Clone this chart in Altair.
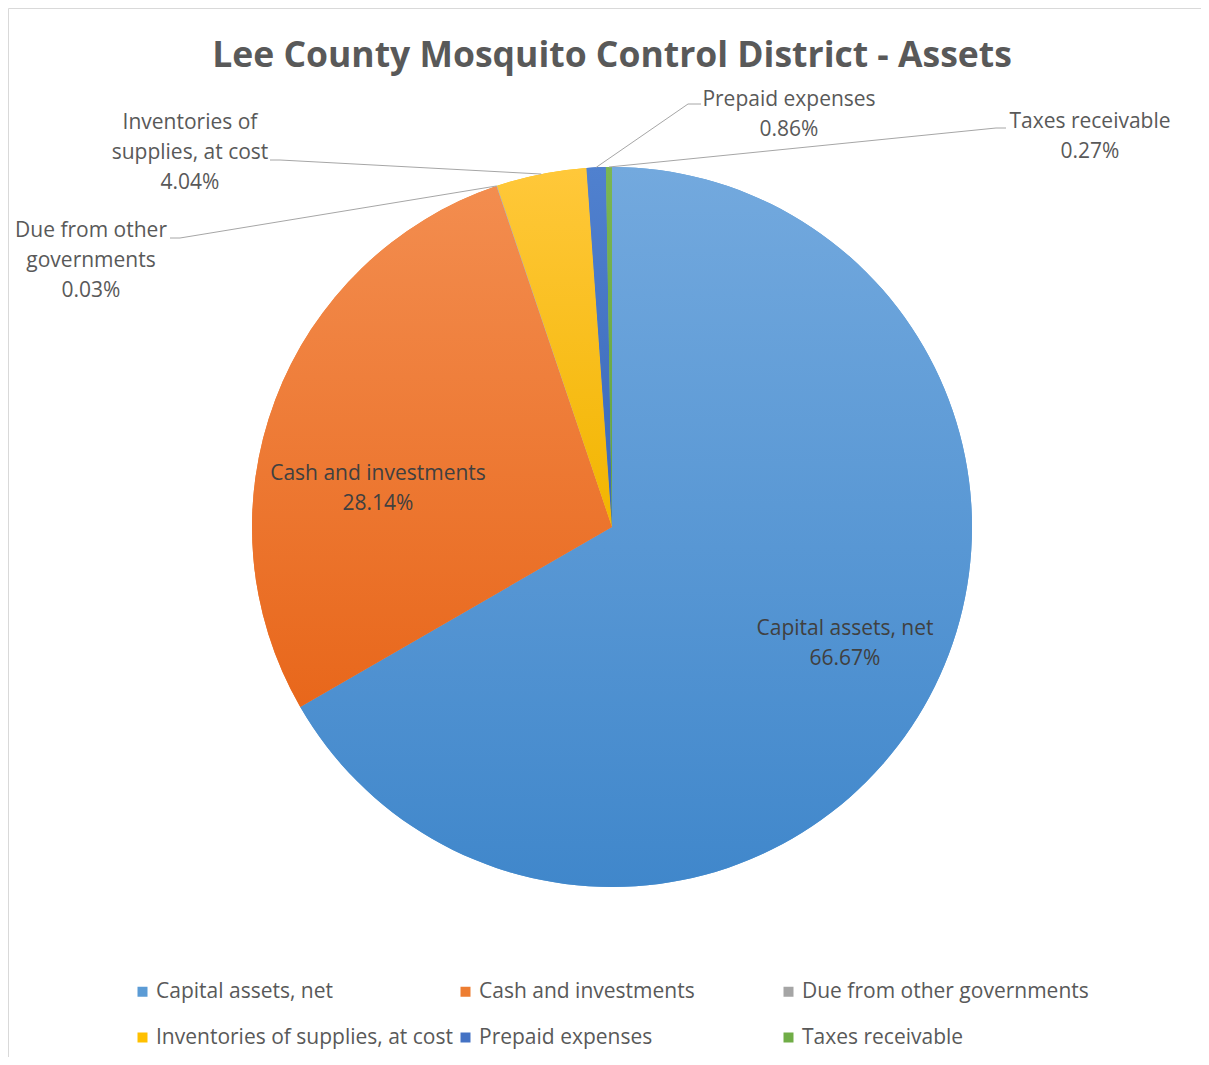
import math
import altair as alt
import pandas as pd

# ---------------- data ----------------
categories = [
    "Capital assets, net",
    "Cash and investments",
    "Due from other governments",
    "Inventories of supplies, at cost",
    "Prepaid expenses",
    "Taxes receivable",
]
percent = [66.67, 28.14, 0.03, 4.04, 0.86, 0.27]
label_names = [
    "Capital assets, net",
    "Cash and investments",
    "Due from other\ngovernments",
    "Inventories of\nsupplies, at cost",
    "Prepaid expenses",
    "Taxes receivable",
]
TITLE = "Lee County Mosquito Control District - Assets"

# ---------------- styles / layout ----------------
colors = ["#5B9BD5", "#ED7D31", "#A5A5A5", "#FFC000", "#4472C4", "#70AD47"]
grad_top = ["#73A9DE", "#F38D4F", "#B2B2B2", "#FFC83A", "#5081CF", "#7BB653"]
grad_bot = ["#4087CB", "#E8671B", "#999999", "#F2B500", "#3A67B8", "#64A23D"]

PAGE_OFF = 8
W, H = 1193, 1049
CX, CY, R = 612, 527, 360  # pie centre and radius in page pixels
FONT = "Open Sans"


def ux(px):
    return (px - CX) / R


def uy(py):
    return (CY - py) / R


xdom = [ux(PAGE_OFF), ux(PAGE_OFF + W)]
ydom = [uy(PAGE_OFF + H), uy(PAGE_OFF)]
xscale = alt.Scale(domain=xdom, nice=False, zero=False)
yscale = alt.Scale(domain=ydom, nice=False, zero=False)

# label placement (page px): centre x, centre of first line y; outside labels
# also get a leader-line stub (start, elbow)
label_pos = {
    "Capital assets, net": (845, 628),
    "Cash and investments": (378, 473),
    "Due from other governments": (91, 230),
    "Inventories of supplies, at cost": (190, 122),
    "Prepaid expenses": (789, 99),
    "Taxes receivable": (1090, 121),
}
leader_stub = {
    "Due from other governments": ((170, 238), (180, 238)),
    "Inventories of supplies, at cost": ((270, 160), (280, 160)),
    "Prepaid expenses": ((701, 104), (688, 104)),
    "Taxes receivable": ((1006, 128), (996, 128)),
}
LINE_H = 30
FS = 21

# ---------------- tables ----------------
total = sum(percent)
rows = []
acc = 0.0
for i, (c, p) in enumerate(zip(categories, percent)):
    rows.append({"cat": c, "idx": i, "value": p, "start": acc, "end": acc + p})
    acc += p
df = pd.DataFrame(rows)

lab_rows = []
for i, c in enumerate(categories):
    lx, ly = label_pos[c]
    inside = c not in leader_stub
    lab_rows.append({
        "cat": c,
        "text": f"{label_names[i]}\n{percent[i]:.2f}%",
        "x": ux(lx),
        "y": uy(ly - 10),
        "inside": inside,
    })
lab = pd.DataFrame(lab_rows)

line_rows = []
for _, r in df.iterrows():
    c = r["cat"]
    if c not in leader_stub:
        continue
    mid = (r["start"] + r["end"]) / 2 / total * 2 * math.pi
    (sx, sy), (ex, ey) = leader_stub[c]
    pts = [(math.sin(mid), math.cos(mid)), (ux(ex), uy(ey)), (ux(sx), uy(sy))]
    for k, (a, b) in enumerate(pts):
        line_rows.append({"cat": c, "ord": k, "x": a, "y": b})
lines = pd.DataFrame(line_rows)

theta_scale = alt.Scale(domain=[0, total])
X0 = alt.X(datum=0, type="quantitative", scale=xscale, axis=None)
Y0 = alt.Y(datum=0, type="quantitative", scale=yscale, axis=None)

base = alt.Chart(df).mark_arc(radius=R, strokeWidth=0).encode(
    theta=alt.Theta("start:Q", scale=theta_scale),
    theta2="end:Q",
    x=X0,
    y=Y0,
    color=alt.Color(
        "cat:N",
        scale=alt.Scale(domain=categories, range=colors),
        sort=categories,
        legend=alt.Legend(
            title=None,
            orient="none",
            direction="horizontal",
            legendX=124,
            legendY=973,
            columns=3,
            symbolType="square",
            symbolSize=100,
            symbolStrokeWidth=0,
            labelFont=FONT,
            labelFontSize=FS,
            labelColor="#595959",
            labelLimit=500,
            labelOffset=3,
            columnPadding=2,
            rowPadding=24,
            gridAlign="all",
        ),
    ),
)

grad_layers = []
for i, c in enumerate(categories):
    g = alt.LinearGradient(
        gradient="linear",
        stops=[
            alt.GradientStop(color=grad_top[i], offset=0),
            alt.GradientStop(color=grad_bot[i], offset=1),
        ],
        x1=0, x2=0, y1=0, y2=1,
    )
    grad_layers.append(
        alt.Chart(df)
        .transform_filter(alt.datum.cat == c)
        .mark_arc(radius=R, fill=g, strokeWidth=0)
        .encode(
            theta=alt.Theta("start:Q", scale=theta_scale),
            theta2="end:Q",
            x=X0,
            y=Y0,
        )
    )

leader = alt.Chart(lines).mark_line(color="#A6A6A6", strokeWidth=1).encode(
    x=alt.X("x:Q", scale=xscale, axis=None),
    y=alt.Y("y:Q", scale=yscale, axis=None),
    detail="cat:N",
    order="ord:Q",
)

text_out = alt.Chart(lab).transform_filter("!datum.inside").mark_text(
    font=FONT, fontSize=FS, color="#595959", align="center", baseline="top",
    lineBreak="\n", lineHeight=LINE_H,
).encode(
    x=alt.X("x:Q", scale=xscale, axis=None),
    y=alt.Y("y:Q", scale=yscale, axis=None),
    text="text:N",
)

text_in = alt.Chart(lab).transform_filter("datum.inside").mark_text(
    font=FONT, fontSize=FS, color="#404040", align="center", baseline="top",
    lineBreak="\n", lineHeight=LINE_H,
).encode(
    x=alt.X("x:Q", scale=xscale, axis=None),
    y=alt.Y("y:Q", scale=yscale, axis=None),
    text="text:N",
)

title = alt.Chart(pd.DataFrame({"t": [TITLE]})).mark_text(
    font=FONT, fontSize=35.5, fontWeight="bold", color="#595959",
    align="center", baseline="middle",
).encode(
    x=alt.value(CX - PAGE_OFF),
    y=alt.value(56 - PAGE_OFF),
    text="t:N",
)

chart = alt.layer(base, *grad_layers, leader, text_out, text_in, title).properties(
    width=W, height=H, padding=0, autosize="none", background="white"
).configure_view(stroke="#D9D9D9", strokeWidth=1)

chart.save("out.html", embed_options={"renderer": "svg", "actions": False})
